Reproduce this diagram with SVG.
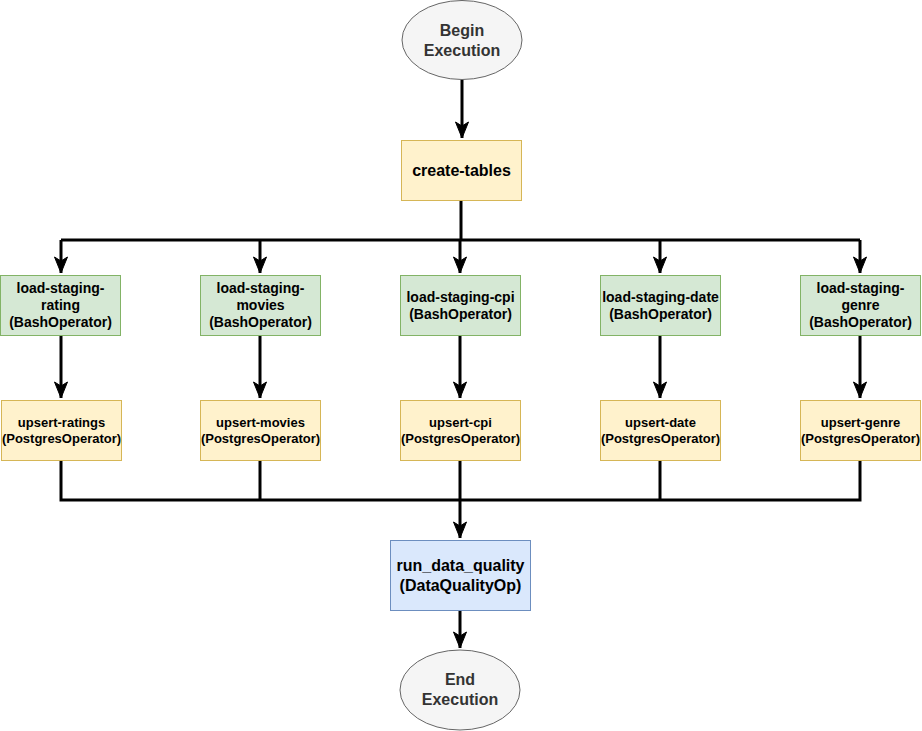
<svg xmlns="http://www.w3.org/2000/svg" width="922" height="731" viewBox="0 0 922 731">
<style>
text{font-family:"Liberation Sans",Arial,sans-serif;font-weight:bold;text-anchor:middle;fill:#000}
.term ellipse{fill:#f5f5f5;stroke:#666666;stroke-width:1}
.term text{fill:#333333;font-size:16px}
.green rect{fill:#d5e8d4;stroke:#82b366;stroke-width:1}
.green text{font-size:14px}
.yellow rect{fill:#fff2cc;stroke:#d6b656;stroke-width:1}
.yellow text{font-size:13px}
.blue rect{fill:#dae8fc;stroke:#6c8ebf;stroke-width:1}
.blue text{font-size:16px}
.big text{font-size:16px}
#edges path{fill:none;stroke:#000;stroke-width:3}
</style>
<defs>
<marker id="arr" markerUnits="userSpaceOnUse" markerWidth="20" markerHeight="20" viewBox="-18 -8 20 16" refX="0" refY="0" orient="auto">
<path d="M0,0 L-16,-6.5 L-12,0 L-16,6.5 Z" fill="#000" stroke="#000" stroke-width="1"/>
</marker>
</defs>
<g id="edges">
<path d="M462,80 V138" marker-end="url(#arr)"/>
<path d="M461,200 V240" />
<path d="M61,240 H860" />
<path d="M61,240 V273" marker-end="url(#arr)"/>
<path d="M260,240 V273" marker-end="url(#arr)"/>
<path d="M460,240 V273" marker-end="url(#arr)"/>
<path d="M660,240 V273" marker-end="url(#arr)"/>
<path d="M860,240 V273" marker-end="url(#arr)"/>
<path d="M61,335 V398" marker-end="url(#arr)"/>
<path d="M260,335 V398" marker-end="url(#arr)"/>
<path d="M460,335 V398" marker-end="url(#arr)"/>
<path d="M660,335 V398" marker-end="url(#arr)"/>
<path d="M860,335 V398" marker-end="url(#arr)"/>
<path d="M61,460 V500 H860 V460" />
<path d="M260,460 V500" />
<path d="M660,460 V500" />
<path d="M460,460 V538" marker-end="url(#arr)"/>
<path d="M460,610 V648" marker-end="url(#arr)"/>
</g>
<g id="begin" class="term">
<ellipse cx="462" cy="40" rx="60" ry="39.5"/>
<text x="462" y="36">Begin</text>
<text x="462" y="55.5">Execution</text>
</g>
<g id="create-tables" class="yellow big">
<rect x="401.5" y="140.5" width="120" height="60"/>
<text x="461.5" y="176">create-tables</text>
</g>
<g id="load-staging-rating" class="green">
<rect x="0.5" y="275.5" width="120" height="60"/>
<text x="60.5" y="293">load-staging-</text>
<text x="60.5" y="310">rating</text>
<text x="60.5" y="327">(BashOperator)</text>
</g>
<g id="load-staging-movies" class="green">
<rect x="200.5" y="275.5" width="120" height="60"/>
<text x="260.5" y="293">load-staging-</text>
<text x="260.5" y="310">movies</text>
<text x="260.5" y="327">(BashOperator)</text>
</g>
<g id="load-staging-cpi" class="green">
<rect x="400.5" y="275.5" width="120" height="60"/>
<text x="460.5" y="302">load-staging-cpi</text>
<text x="460.5" y="318.5">(BashOperator)</text>
</g>
<g id="load-staging-date" class="green">
<rect x="600.5" y="275.5" width="120" height="60"/>
<text x="660.5" y="302">load-staging-date</text>
<text x="660.5" y="318.5">(BashOperator)</text>
</g>
<g id="load-staging-genre" class="green">
<rect x="800.5" y="275.5" width="120" height="60"/>
<text x="860.5" y="293">load-staging-</text>
<text x="860.5" y="310">genre</text>
<text x="860.5" y="327">(BashOperator)</text>
</g>
<g id="upsert-ratings" class="yellow">
<rect x="1.5" y="400.5" width="120" height="60"/>
<text x="61.5" y="427">upsert-ratings</text>
<text x="61.5" y="443">(PostgresOperator)</text>
</g>
<g id="upsert-movies" class="yellow">
<rect x="200.5" y="400.5" width="120" height="60"/>
<text x="260.5" y="427">upsert-movies</text>
<text x="260.5" y="443">(PostgresOperator)</text>
</g>
<g id="upsert-cpi" class="yellow">
<rect x="400.5" y="400.5" width="120" height="60"/>
<text x="460.5" y="427">upsert-cpi</text>
<text x="460.5" y="443">(PostgresOperator)</text>
</g>
<g id="upsert-date" class="yellow">
<rect x="600.5" y="400.5" width="120" height="60"/>
<text x="660.5" y="427">upsert-date</text>
<text x="660.5" y="443">(PostgresOperator)</text>
</g>
<g id="upsert-genre" class="yellow">
<rect x="800.5" y="400.5" width="120" height="60"/>
<text x="860.5" y="427">upsert-genre</text>
<text x="860.5" y="443">(PostgresOperator)</text>
</g>
<g id="run_data_quality" class="blue">
<rect x="390.5" y="540.5" width="140" height="70"/>
<text x="460.5" y="571">run_data_quality</text>
<text x="460.5" y="590.5">(DataQualityOp)</text>
</g>
<g id="end" class="term">
<ellipse cx="460" cy="690" rx="60" ry="40"/>
<text x="460" y="685">End</text>
<text x="460" y="705">Execution</text>
</g>
</svg>
